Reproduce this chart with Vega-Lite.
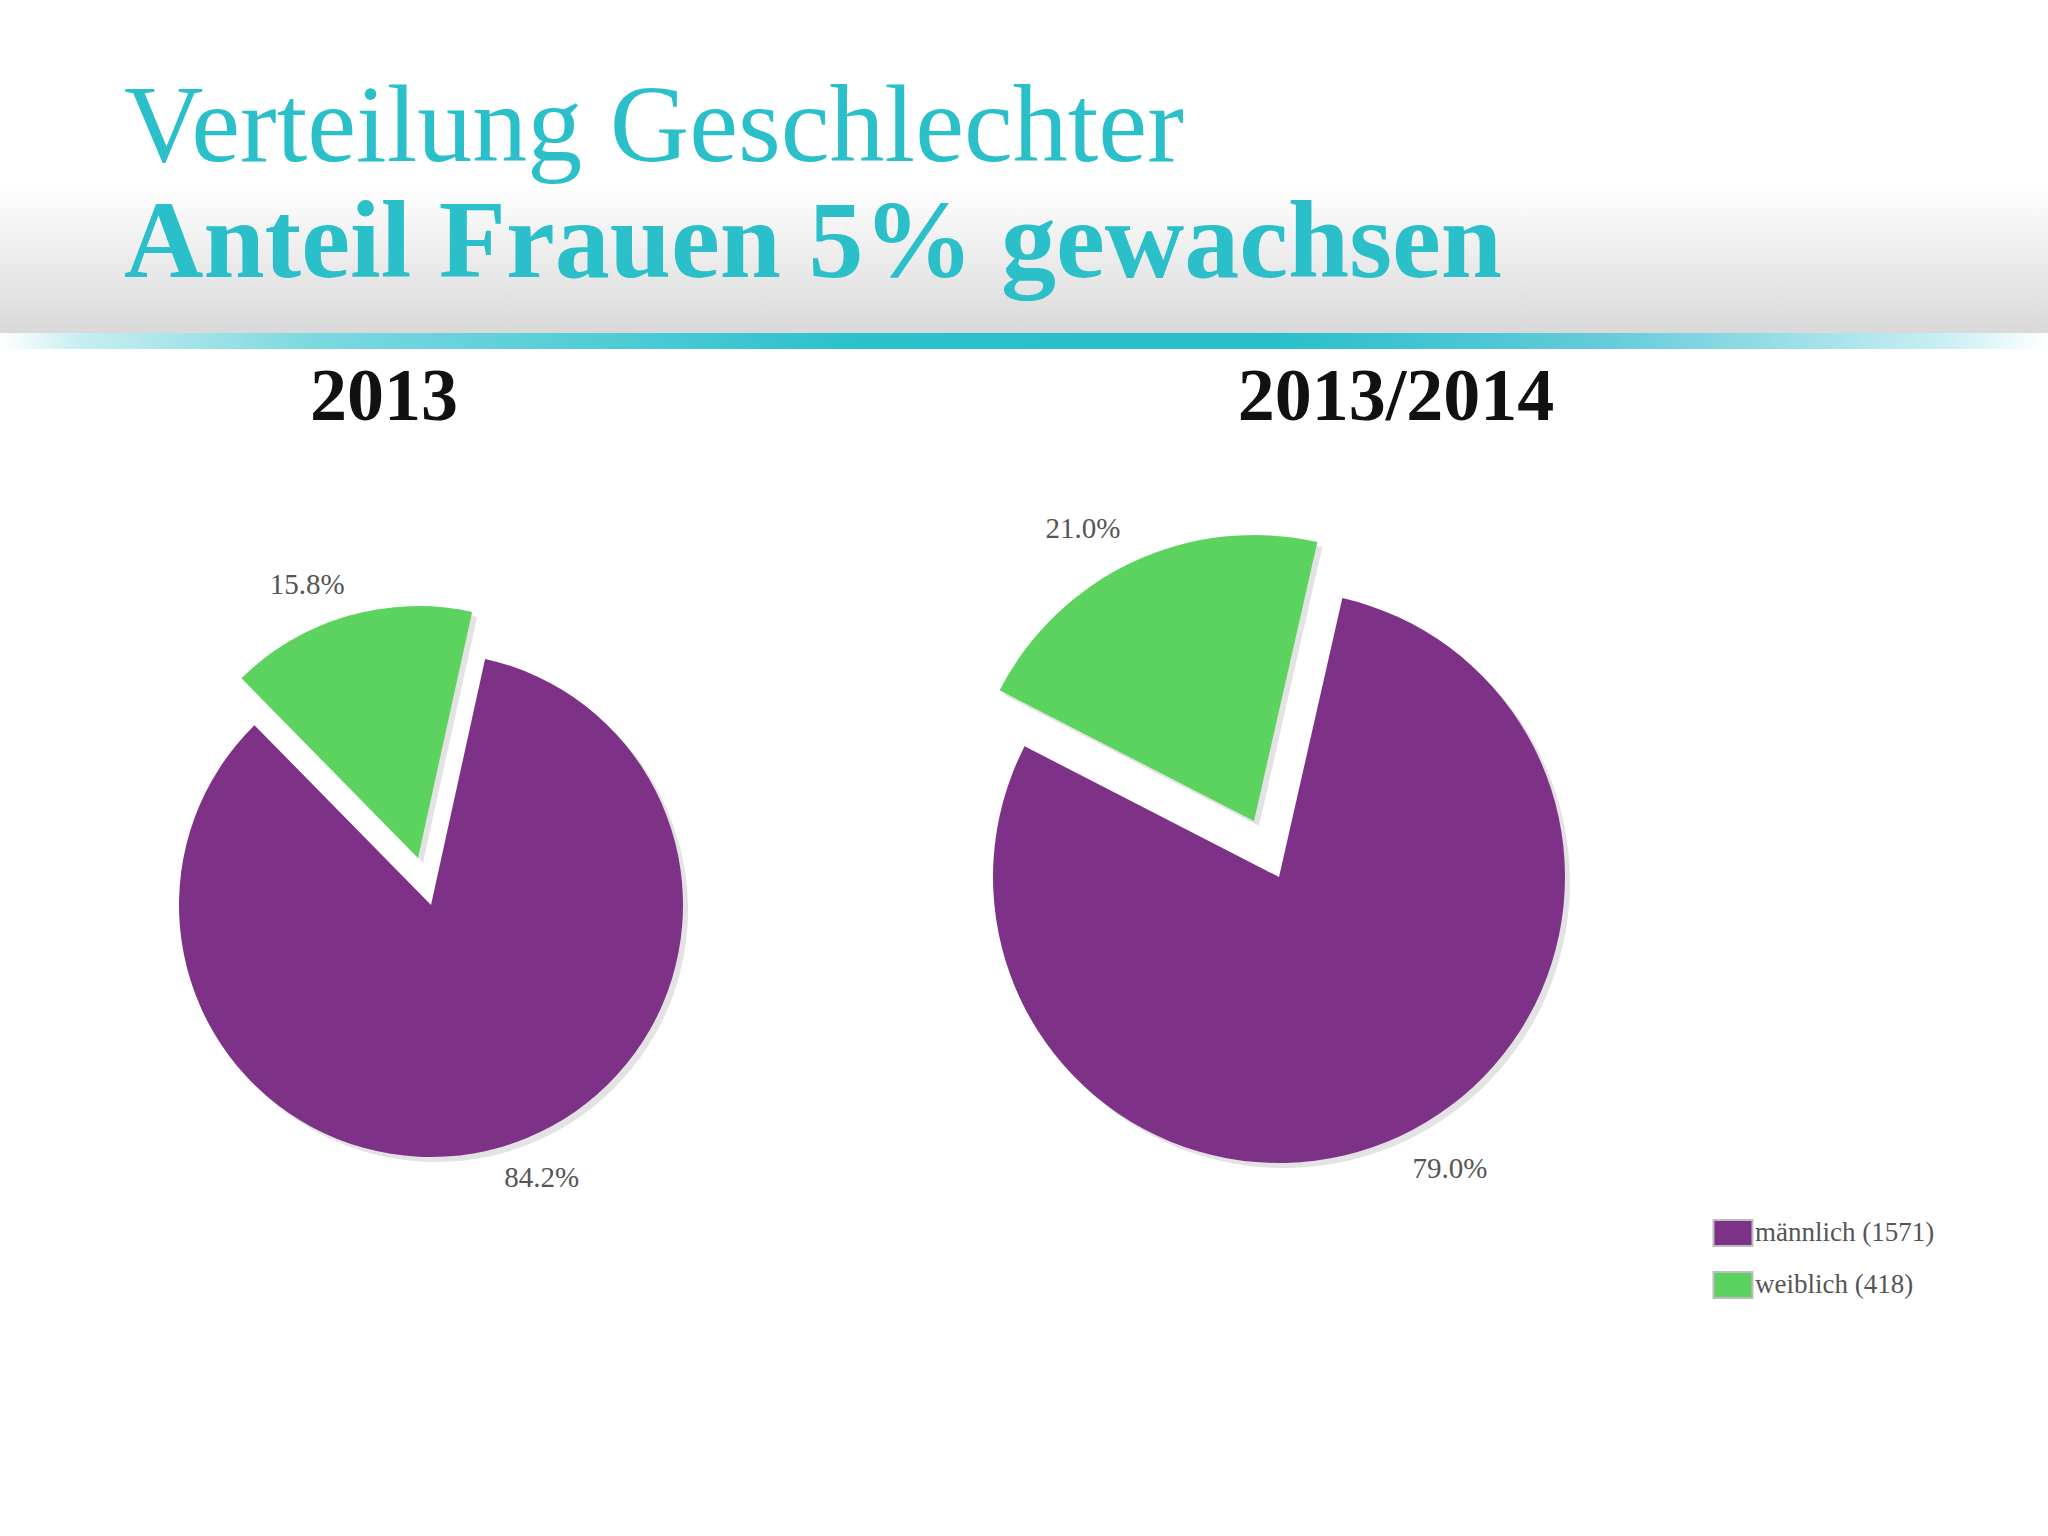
{
  "$schema": "https://vega.github.io/schema/vega-lite/v6.json",
  "background": "#ffffff",
  "padding": 0,
  "spacing": 12,
  "config": {"view": {"stroke": null}, "font": "Liberation Serif"},
  "vconcat": [
    {
      "spacing": 0,
      "vconcat": [
        {
          "width": 2048,
          "height": 333,
          "view": {
            "stroke": null,
            "fill": {"gradient": "linear", "x1": 0, "y1": 0, "x2": 0, "y2": 1,
              "stops": [{"offset": 0, "color": "#ffffff"}, {"offset": 0.55, "color": "#ffffff"}, {"offset": 1, "color": "#d9d9d9"}]}
          },
          "title": {
            "text": "Verteilung Geschlechter",
            "subtitle": "Anteil Frauen 5% gewachsen",
            "anchor": "start", "frame": "group", "orient": "top",
            "offset": -300, "dx": 124,
            "font": "Liberation Serif", "fontSize": 110, "fontWeight": "normal", "color": "#2bbfca",
            "subtitleFont": "Liberation Serif", "subtitleFontSize": 110, "subtitleFontWeight": "bold",
            "subtitleColor": "#2bbfca", "subtitlePadding": 6
          },
          "data": {"values": [{}]},
          "mark": {"type": "point", "opacity": 0},
          "encoding": {}
        },
        {
          "width": 2048,
          "height": 16,
          "view": {
            "stroke": null,
            "fill": {"gradient": "linear", "x1": 0, "y1": 0, "x2": 1, "y2": 0,
              "stops": [{"offset": 0, "color": "#ffffff"}, {"offset": 0.04, "color": "#c6eef1"}, {"offset": 0.15, "color": "#7dd9e0"}, {"offset": 0.42, "color": "#2ac1cd"}, {"offset": 0.62, "color": "#27bfcc"}, {"offset": 0.78, "color": "#62cbd9"}, {"offset": 0.95, "color": "#c9eff3"}, {"offset": 1, "color": "#ffffff"}]}
          },
          "data": {"values": [{}]},
          "mark": {"type": "point", "opacity": 0},
          "encoding": {}
        }
      ]
    },
    {
      "spacing": 0,
      "resolve": {"scale": {"color": "independent", "theta": "independent"}, "legend": {"color": "independent"}},
      "hconcat": [
        {
          "width": 862,
          "height": 918,
          "title": {"text": "2013", "font": "Liberation Serif", "fontSize": 74, "fontWeight": "bold", "color": "#111111", "anchor": "middle", "dx": -47, "offset": 10},
          "data": {"values": [{"sex": "männlich", "share": 0.842}, {"sex": "weiblich", "share": 0.158}]},
          "encoding": {
            "theta": {"field": "share", "type": "quantitative", "stack": true, "scale": {"range": [0.2164, 6.4996]}},
            "order": {"field": "sex", "sort": "ascending"},
            "detail": {"field": "sex"}
          },
          "resolve": {"scale": {"theta": "independent"}},
          "layer": [
            {"mark": {"type": "arc", "radius": 252, "xOffset": 5, "yOffset": 5, "color": "#e3e3e3"},
             "encoding": {"opacity": {"condition": {"test": "datum.sex === 'männlich'", "value": 1}, "value": 0}}},
            {"mark": {"type": "arc", "radius": 252, "xOffset": -8, "yOffset": -42, "color": "#e3e3e3"},
             "encoding": {"opacity": {"condition": {"test": "datum.sex === 'weiblich'", "value": 1}, "value": 0}}},
            {"mark": {"type": "arc", "radius": 252},
             "encoding": {
               "color": {"field": "sex", "type": "nominal", "scale": {"domain": ["männlich", "weiblich"], "range": ["#7e3287", "#5dd35f"]}, "legend": null},
               "opacity": {"condition": {"test": "datum.sex === 'männlich'", "value": 1}, "value": 0}}},
            {"mark": {"type": "arc", "radius": 252, "xOffset": -13, "yOffset": -47},
             "encoding": {
               "color": {"field": "sex", "type": "nominal", "scale": {"domain": ["männlich", "weiblich"], "range": ["#7e3287", "#5dd35f"]}, "legend": null},
               "opacity": {"condition": {"test": "datum.sex === 'weiblich'", "value": 1}, "value": 0}}},
            {"mark": {"type": "text", "radius": 295, "font": "Liberation Serif", "fontSize": 29, "color": "#555555"},
             "encoding": {
               "theta": {"field": "share", "type": "quantitative", "stack": true, "scale": {"range": [0.1117, 6.3949]}},
               "text": {"condition": {"test": "datum.sex === 'männlich'", "field": "share", "type": "quantitative", "format": ".1%"}, "value": ""}}},
            {"mark": {"type": "text", "radius": 295, "xOffset": -13, "yOffset": -47, "font": "Liberation Serif", "fontSize": 29, "color": "#555555"},
             "encoding": {
               "theta": {"field": "share", "type": "quantitative", "stack": true, "scale": {"range": [0.1117, 6.3949]}},
               "text": {"condition": {"test": "datum.sex === 'weiblich'", "field": "share", "type": "quantitative", "format": ".1%"}, "value": ""}}}
          ]
        },
        {
          "width": 834,
          "height": 862,
          "title": {"text": "2013/2014", "font": "Liberation Serif", "fontSize": 74, "fontWeight": "bold", "color": "#111111", "anchor": "middle", "dx": 117, "offset": 10},
          "data": {"values": [{"sex": "männlich", "share": 0.790, "count": 1571}, {"sex": "weiblich", "share": 0.210, "count": 418}]},
          "encoding": {
            "theta": {"field": "share", "type": "quantitative", "stack": true, "scale": {"range": [0.2234, 6.5066]}},
            "order": {"field": "sex", "sort": "ascending"},
            "detail": {"field": "sex"}
          },
          "resolve": {"scale": {"theta": "independent"}},
          "layer": [
            {"mark": {"type": "arc", "radius": 286, "xOffset": 5, "yOffset": 5, "color": "#e3e3e3"},
             "encoding": {"opacity": {"condition": {"test": "datum.sex === 'männlich'", "value": 1}, "value": 0}}},
            {"mark": {"type": "arc", "radius": 286, "xOffset": -20, "yOffset": -51, "color": "#e3e3e3"},
             "encoding": {"opacity": {"condition": {"test": "datum.sex === 'weiblich'", "value": 1}, "value": 0}}},
            {"mark": {"type": "arc", "radius": 286},
             "encoding": {
               "color": {"field": "sex", "type": "nominal", "scale": {"domain": ["männlich", "weiblich"], "range": ["#7e3287", "#5dd35f"]},
                 "legend": {"title": null, "orient": "none", "legendX": 857, "legendY": 773, "padding": 0,
                   "labelFont": "Liberation Serif", "labelFontSize": 27, "labelColor": "#555555", "labelOffset": 8, "labelLimit": 500,
                   "symbolType": "M-1.5,-1H1.5V1H-1.5Z", "symbolSize": 676, "symbolStrokeColor": "#bdbdbd", "symbolStrokeWidth": 2, "symbolOpacity": 1,
                   "rowPadding": 18,
                   "labelExpr": "datum.label === 'männlich' ? 'männlich (1571)' : 'weiblich (418)'"}},
               "opacity": {"condition": {"test": "datum.sex === 'männlich'", "value": 1}, "value": 0}}},
            {"mark": {"type": "arc", "radius": 286, "xOffset": -25, "yOffset": -56},
             "encoding": {
               "color": {"field": "sex", "type": "nominal", "scale": {"domain": ["männlich", "weiblich"], "range": ["#7e3287", "#5dd35f"]},
                 "legend": {"title": null, "orient": "none", "legendX": 857, "legendY": 773, "padding": 0,
                   "labelFont": "Liberation Serif", "labelFontSize": 27, "labelColor": "#555555", "labelOffset": 8, "labelLimit": 500,
                   "symbolType": "M-1.5,-1H1.5V1H-1.5Z", "symbolSize": 676, "symbolStrokeColor": "#bdbdbd", "symbolStrokeWidth": 2, "symbolOpacity": 1,
                   "rowPadding": 18,
                   "labelExpr": "datum.label === 'männlich' ? 'männlich (1571)' : 'weiblich (418)'"}},
               "opacity": {"condition": {"test": "datum.sex === 'weiblich'", "value": 1}, "value": 0}}},
            {"mark": {"type": "text", "radius": 338, "font": "Liberation Serif", "fontSize": 29, "color": "#555555"},
             "encoding": {
               "theta": {"field": "share", "type": "quantitative", "stack": true, "scale": {"range": [0.1294, 6.4126]}},
               "text": {"condition": {"test": "datum.sex === 'männlich'", "field": "share", "type": "quantitative", "format": ".1%"}, "value": ""}}},
            {"mark": {"type": "text", "radius": 338, "xOffset": -25, "yOffset": -56, "font": "Liberation Serif", "fontSize": 29, "color": "#555555"},
             "encoding": {
               "theta": {"field": "share", "type": "quantitative", "stack": true, "scale": {"range": [0.1294, 6.4126]}},
               "text": {"condition": {"test": "datum.sex === 'weiblich'", "field": "share", "type": "quantitative", "format": ".1%"}, "value": ""}}}
          ]
        }
      ]
    }
  ]
}
